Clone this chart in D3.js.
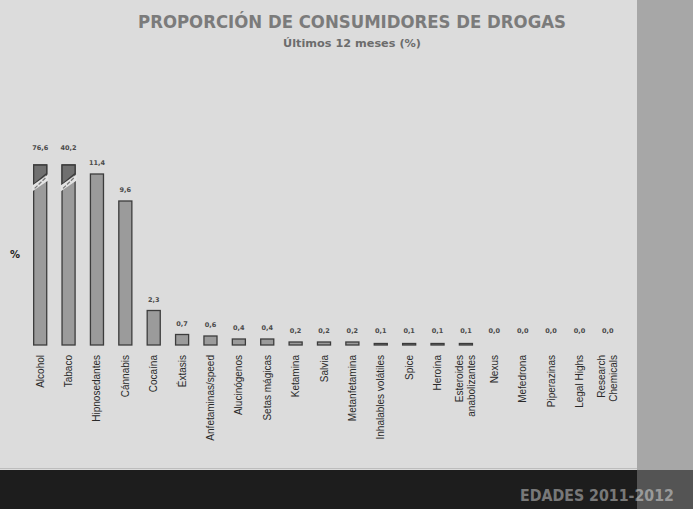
<!DOCTYPE html>
<html>
<head>
<meta charset="utf-8">
<script src="https://cdn.jsdelivr.net/npm/d3@7"></script>
<style>
  html, body { margin: 0; padding: 0; background: #dcdcdc; }
  svg { display: block; }
</style>
</head>
<body>
<svg id="chart" width="693" height="509"></svg>
<script>
// Prevalence of drug use in the last 12 months (%), EDADES 2011-2012
const categories = [
  "Alcohol", "Tabaco", "Hipnosedantes", "Cánnabis", "Cocaína", "Éxtasis",
  "Anfetaminas/speed", "Alucinógenos", "Setas mágicas", "Ketamina", "Salvia",
  "Metanfetamina", "Inhalables volátiles", "Spice", "Heroína",
  "Esteroides\nanabolizantes", "Nexus", "Mefedrona", "Piperazinas",
  "Legal Highs", "Research\nChemicals"
];
const values = [
  76.6, 40.2, 11.4, 9.6, 2.3, 0.7,
  0.6, 0.4, 0.4, 0.2, 0.2,
  0.2, 0.1, 0.1, 0.1,
  0.1, 0.0, 0.0, 0.0,
  0.0, 0.0
];
// Bars above this value are drawn truncated, with a break mark
const axisBreak = 12;

const title = "PROPORCIÓN DE CONSUMIDORES DE DROGAS";
const subtitle = "Últimos 12 meses (%)";
const footer = "EDADES 2011-2012";

const W = 693, H = 509;
const svg = d3.select("#chart");

// Page frame: light panel, grey side strip, dark footer band
svg.append("rect").attr("x", 0).attr("y", 0).attr("width", W).attr("height", H).attr("fill", "#dcdcdc");
svg.append("rect").attr("x", 637).attr("y", 0).attr("width", W - 637).attr("height", 470).attr("fill", "#a7a7a7");
svg.append("line").attr("x1", 0).attr("x2", 637).attr("y1", 468.5).attr("y2", 468.5).attr("stroke", "#bdbdbd").attr("stroke-width", 1);
svg.append("rect").attr("x", 0).attr("y", 470).attr("width", W).attr("height", H - 470).attr("fill", "#1d1d1d");
svg.append("rect").attr("x", 637).attr("y", 470).attr("width", W - 637).attr("height", H - 470).attr("fill", "#545454");

// Titles
svg.append("text")
  .attr("x", 352).attr("y", 28)
  .attr("text-anchor", "middle")
  .attr("font-family", "DejaVu Sans, sans-serif")
  .attr("font-weight", "bold").attr("font-size", 17)
  .attr("textLength", 428).attr("lengthAdjust", "spacingAndGlyphs")
  .attr("fill", "#7b7b7b")
  .text(title);
svg.append("text")
  .attr("x", 352).attr("y", 47)
  .attr("text-anchor", "middle")
  .attr("font-family", "DejaVu Sans, sans-serif")
  .attr("font-weight", "bold").attr("font-size", 10.5)
  .attr("textLength", 138).attr("lengthAdjust", "spacingAndGlyphs")
  .attr("fill", "#6c6c6c")
  .text(subtitle);

// Footer
svg.append("text")
  .attr("x", 597).attr("y", 501)
  .attr("text-anchor", "middle")
  .attr("font-family", "DejaVu Sans, sans-serif")
  .attr("font-weight", "bold").attr("font-size", 16)
  .attr("textLength", 154).attr("lengthAdjust", "spacingAndGlyphs")
  .attr("fill", "rgba(255,255,255,0.42)")
  .text(footer);

// Scales
const x = d3.scaleBand().domain(categories).range([26, 622]).paddingInner(0.54).paddingOuter(0.27);
const y = d3.scaleLinear().domain([0, axisBreak]).range([345, 165]);

// Y axis title
svg.append("text")
  .attr("x", 15).attr("y", 258)
  .attr("text-anchor", "middle")
  .attr("font-family", "DejaVu Sans, sans-serif")
  .attr("font-weight", "bold").attr("font-size", 10)
  .attr("fill", "#222")
  .text("%");

const data = categories.map((c, i) => ({ c, v: values[i] }));
const g = svg.append("g");

// Bars
g.selectAll("rect.bar")
  .data(data.filter(d => d.v > 0))
  .join("rect")
  .attr("class", "bar")
  .attr("x", d => x(d.c))
  .attr("width", x.bandwidth())
  .attr("y", d => y(Math.min(d.v, axisBreak)))
  .attr("height", d => y(0) - y(Math.min(d.v, axisBreak)))
  .attr("fill", "#9b9b9b")
  .attr("stroke", "#3c3c3c")
  .attr("stroke-width", 1.3);

// Axis break on truncated bars: darker slanted cap above, light gap across
const broken = data.filter(d => d.v > axisBreak);
broken.forEach(d => {
  const x0 = x(d.c), x1 = x0 + x.bandwidth();
  const yTop = y(axisBreak);
  const yL = y(axisBreak * 0.87), yR = y(axisBreak * 0.93); // gap centre at left/right edge
  g.append("polygon")
    .attr("points", [[x0, yTop], [x1, yTop], [x1, yR - 4], [x0, yL - 4]].map(p => p.join(",")).join(" "))
    .attr("fill", "#707070").attr("stroke", "#3c3c3c").attr("stroke-width", 1.3);
  g.append("polygon")
    .attr("points", [[x0 - 1.5, yL - 3], [x1 + 1.5, yR - 3], [x1 + 1.5, yR + 3], [x0 - 1.5, yL + 3]].map(p => p.join(",")).join(" "))
    .attr("fill", "#e4e4e4");
  g.append("line")
    .attr("x1", x0 + 1).attr("y1", yL).attr("x2", x1 - 1).attr("y2", yR)
    .attr("stroke", "#7a7a7a").attr("stroke-width", 1.3).attr("stroke-dasharray", "4,1.5");
});

// Value labels
const fmt = v => v.toFixed(1).replace(".", ",");
g.selectAll("text.val")
  .data(data)
  .join("text")
  .attr("class", "val")
  .attr("x", d => x(d.c) + x.bandwidth() / 2)
  .attr("y", d => Math.min(y(Math.min(d.v, axisBreak)), y(0) - 3) - (d.v > axisBreak ? 15 : 9))
  .attr("text-anchor", "middle")
  .attr("font-family", "DejaVu Sans, sans-serif")
  .attr("font-weight", "bold").attr("font-size", 6.5)
  .attr("fill", "#4a4a4a")
  .text(d => fmt(d.v));

// Category labels, rotated, hanging below the bars
const labels = g.selectAll("text.cat")
  .data(data)
  .join("text")
  .attr("class", "cat")
  .attr("transform", d => `translate(${x(d.c) + x.bandwidth() / 2},355) rotate(-90)`)
  .attr("text-anchor", "end")
  .attr("font-family", "Liberation Sans, sans-serif")
  .attr("font-size", 10)
  .attr("fill", "#2a2a2a");
labels.each(function(d) {
  const lines = d.c.split("\n");
  const t = d3.select(this);
  lines.forEach((ln, i) => {
    t.append("tspan")
      .attr("x", 0)
      .attr("dy", i === 0 ? (0.35 - (lines.length - 1) * 0.6) + "em" : "1.2em")
      .text(ln);
  });
});
</script>
</body>
</html>
